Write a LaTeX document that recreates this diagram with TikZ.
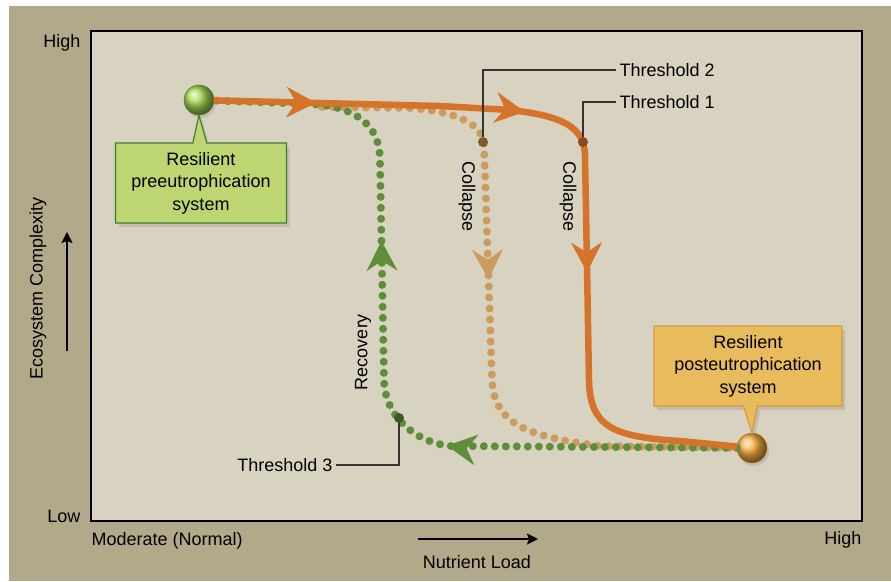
\documentclass[tikz,border=0pt]{standalone}
\usepackage{fontspec}
\setmainfont{Liberation Sans}
\usetikzlibrary{arrows.meta,shapes,shadows,decorations.markings,positioning}

\definecolor{outertan}{HTML}{B1A98A}
\definecolor{innertan}{HTML}{D8D2C0}
\definecolor{lineorange}{HTML}{D5732A}
\definecolor{dottan}{HTML}{CB9B5F}
\definecolor{dotgreen}{HTML}{5F8E3B}
\definecolor{boxgreen}{HTML}{BDD672}
\definecolor{boxgreenD}{HTML}{3F7D33}
\definecolor{boxorange}{HTML}{E8BB5C}
\definecolor{boxorangeD}{HTML}{D9983A}
\definecolor{ballgreen}{HTML}{A8DC55}
\definecolor{ballorange}{HTML}{FFAE40}
\definecolor{tbrown}{HTML}{7A5A34}
\definecolor{trust}{HTML}{8B4A1C}
\definecolor{tgreen}{HTML}{3C5A22}

\tikzset{flowtip/.tip={Stealth[length=30pt,width=31pt,inset=10pt,line width=0pt]}}

\begin{document}
\begin{tikzpicture}[x=1pt,y=-1pt,
  lbl/.style={font=\fontsize{18}{22.5}\selectfont},
  frame/.style={draw=black,line width=1.5pt,fill=innertan},
  axisarrow/.style={line width=2.8pt,-{Stealth[length=11pt,width=11pt,inset=2pt]}},
  leader/.style={draw=black!80,line width=1.2pt},
  tdot/.style={circle,inner sep=0pt,minimum size=10pt},
  ball/.style={circle,inner sep=0pt,minimum size=30pt,shading=ball,
    drop shadow={opacity=0.25,shadow xshift=2pt,shadow yshift=-3pt}},
  callbox/.style={rectangle callout,lbl,align=center,line width=1.2pt,
    callout pointer width=14pt,minimum height=80pt,
    drop shadow={opacity=0.25,shadow xshift=3pt,shadow yshift=-4pt}},
  dotline/.style={line width=8pt,line cap=round,dash pattern=on 0pt off 11pt},
  arrowsat/.style={postaction={decorate},decoration={markings,#1}}]

\useasboundingbox (0,0) rectangle (891,581);
\fill[white] (0,0) rectangle (891,581);
\fill[outertan] (9,6) rectangle (891,581);
\draw[frame] (91,31) rectangle (862,521);

% axes
\path (84,43) node(yhigh)[lbl,anchor=east] {High};
\path (84,516) node(ylow)[lbl,anchor=east] {Low};
\path (88,541) node(xlow)[lbl,anchor=west] {Moderate (Normal)};
\path (865,540) node(xhigh)[lbl,anchor=east] {High};
\path (477,562) node(xname)[lbl] {Nutrient Load};
\path (38,288) node(yname)[lbl,rotate=90] {Ecosystem Complexity};
\coordinate (yarr0) at (67,351);
\coordinate (yarr1) at (67,232);
\coordinate (xarr0) at (418,539);
\coordinate (xarr1) at (538,539);
\draw[axisarrow] (yarr0) -- (yarr1);
\draw[axisarrow] (xarr0) -- (xarr1);

% states
\path (199,100) node(g)[ball,ball color=ballgreen,draw=boxgreenD] {};
\path (752,448) node(o)[ball,ball color=ballorange,draw=ballorange!70!black] {};
\coordinate (tanstart) at (322,107);

% paths
\draw[dotline,dottan,arrowsat={mark=at position 312pt with {\arrow{flowtip}}}]
  (tanstart) -- (410,108) .. controls (460,112) and (483,125) .. (484,145)
  -- (492,380) .. controls (494,425) and (530,437) .. (600,446) -- (o);
\draw[dotline,dotgreen,arrowsat={mark=at position 290pt with {\arrow{flowtip}},
    mark=at position 528pt with {\arrow{flowtip}}}]
  (o) -- (450,446) .. controls (420,443) and (385,420) .. (384,380)
  -- (380,160) .. controls (380,125) and (355,106) .. (310,104) -- (g);
\draw[line width=6.5pt,lineorange,arrowsat={mark=at position 102pt with {\arrow{flowtip}},
    mark=at position 311pt with {\arrow{flowtip}},
    mark=at position 510pt with {\arrow{flowtip}}}]
  (g) -- (440,106) -- (510,110) .. controls (565,116) and (584,128) .. (585,155)
  -- (589,380) .. controls (590,425) and (610,437) .. (680,441) -- (o);

% thresholds
\path (483,142) node(t2)[tdot,fill=tbrown] {};
\path (583,142) node(t1)[tdot,fill=trust] {};
\path (399,418) node(t3)[tdot,fill=tgreen] {};
\path (616,70) node(l2)[lbl,anchor=west] {Threshold 2};
\path (616,102) node(l1)[lbl,anchor=west] {Threshold 1};
\path (336,465) node(l3)[lbl,anchor=east] {Threshold 3};
\draw[leader] (t2) |- (l2);
\draw[leader] (t1) |- (l1);
\draw[leader] (t3) |- (l3);

\path (467,197) node(c2)[lbl,rotate=-90] {Collapse};
\path (568,197) node(c1)[lbl,rotate=-90] {Collapse};
\path (363,352) node(rec)[lbl,rotate=90] {Recovery};

% callouts
\path (201,183) node(gbox)[callbox,fill=boxgreen,draw=boxgreenD,minimum width=171pt,
  callout absolute pointer={(g.south)}] {Resilient\\preeutrophication\\system};
\path (748,366) node(obox)[callbox,fill=boxorange,draw=boxorangeD,minimum width=188pt,
  callout absolute pointer={(o.north)}] {Resilient\\posteutrophication\\system};
\end{tikzpicture}
\end{document}
